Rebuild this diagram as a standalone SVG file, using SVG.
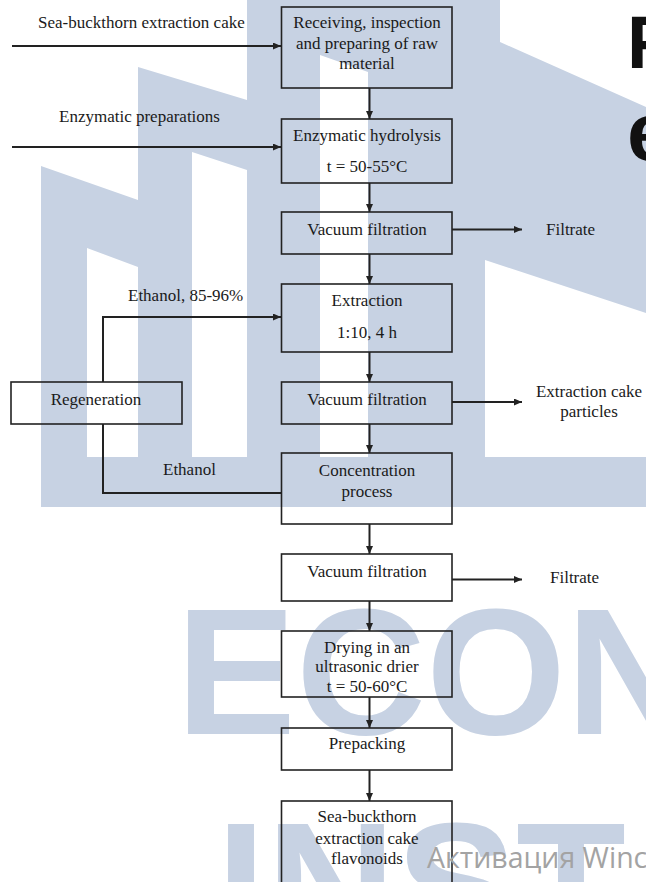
<svg xmlns="http://www.w3.org/2000/svg" width="646" height="882" viewBox="0 0 646 882">
<style>
.wm{fill:#c7d2e3}
.wmt{fill:#c7d2e3;font-family:"Liberation Sans",Arial,sans-serif;font-weight:bold;font-size:180px}
.box{fill:none;stroke:#222;stroke-width:1.6}
.t{font-family:"Liberation Serif","Times New Roman",serif;font-size:17px;fill:#1a1a1a}
.c{text-anchor:middle}
.ln{fill:none;stroke:#222;stroke-width:2}
.ttl{font-family:"Liberation Sans",Arial,sans-serif;font-weight:bold;fill:#111}
</style>
<defs>
<marker id="ah" markerWidth="8" markerHeight="7" refX="8" refY="3.5" orient="auto" markerUnits="userSpaceOnUse">
<path d="M0,0 L8,3.5 L0,7 Z" fill="#222"/>
</marker>
</defs>
<rect x="0" y="0" width="646" height="882" fill="#fff"/>
<g id="watermark">
<path class="wm" fill-rule="evenodd" d="M41,166 L138,200 L138,67 L247,100 L247,0 L500,0 L500,42 L646,107 L646,313 L485,260 L485,457 L646,457 L646,507 L41,507 Z M87,248 L138,267 L138,457 L87,457 Z M192,152 L247,170 L247,457 L192,457 Z M320,55 L368,72 L368,457 L320,457 Z"/>
<text class="wmt" x="176" y="734">ECON</text>
<text class="wmt" x="216" y="948">INST</text>
</g>
<g id="title">
<text class="ttl" x="627" y="68" font-size="74">F</text>
<text class="ttl" x="627" y="160" font-size="82">e</text>
</g>
<g id="connectors">
<line class="ln" x1="12" y1="46" x2="281" y2="46" marker-end="url(#ah)"/>
<line class="ln" x1="12" y1="147" x2="281" y2="147" marker-end="url(#ah)"/>
<line class="ln" x1="369.5" y1="88" x2="369.5" y2="119" marker-end="url(#ah)"/>
<line class="ln" x1="369.5" y1="183" x2="369.5" y2="212" marker-end="url(#ah)"/>
<line class="ln" x1="369.5" y1="254" x2="369.5" y2="284" marker-end="url(#ah)"/>
<line class="ln" x1="369.5" y1="352" x2="369.5" y2="382" marker-end="url(#ah)"/>
<line class="ln" x1="369.5" y1="424" x2="369.5" y2="453" marker-end="url(#ah)"/>
<line class="ln" x1="369.5" y1="524" x2="369.5" y2="554" marker-end="url(#ah)"/>
<line class="ln" x1="369.5" y1="601" x2="369.5" y2="631" marker-end="url(#ah)"/>
<line class="ln" x1="369.5" y1="697" x2="369.5" y2="728" marker-end="url(#ah)"/>
<line class="ln" x1="369.5" y1="770" x2="369.5" y2="801" marker-end="url(#ah)"/>
<line class="ln" x1="452" y1="229.5" x2="522" y2="229.5" marker-end="url(#ah)"/>
<line class="ln" x1="452" y1="402" x2="522" y2="402" marker-end="url(#ah)"/>
<line class="ln" x1="452" y1="579.5" x2="522" y2="579.5" marker-end="url(#ah)"/>
<polyline class="ln" points="103,382 103,317 281,317" marker-end="url(#ah)"/>
<polyline class="ln" points="103,424 103,493 281,493"/>
</g>
<text class="t" x="38" y="28">Sea-buckthorn extraction cake</text>
<text class="t" x="59" y="122">Enzymatic preparations</text>
<text class="t" x="128" y="301">Ethanol, 85-96%</text>
<text class="t" x="163" y="475">Ethanol</text>
<text class="t" x="546" y="235">Filtrate</text>
<text class="t c" x="589" y="396.5">Extraction cake</text>
<text class="t c" x="589" y="417">particles</text>
<text class="t" x="550" y="583">Filtrate</text>
<g id="n1"><rect class="box" x="281.5" y="7" width="170.5" height="81"/>
<text class="t c" x="367" y="28">Receiving, inspection</text>
<text class="t c" x="367" y="49">and preparing of raw</text>
<text class="t c" x="367" y="69">material</text></g>
<g id="n2"><rect class="box" x="281.5" y="119" width="170.5" height="64"/>
<text class="t c" x="367" y="140.5">Enzymatic hydrolysis</text>
<text class="t c" x="367" y="171.5">t = 50-55°C</text></g>
<g id="n3"><rect class="box" x="281.5" y="212" width="170.5" height="42"/>
<text class="t c" x="367" y="235">Vacuum filtration</text></g>
<g id="n4"><rect class="box" x="281.5" y="284" width="170.5" height="68"/>
<text class="t c" x="367" y="306">Extraction</text>
<text class="t c" x="367" y="337.5">1:10, 4 h</text></g>
<g id="n5"><rect class="box" x="11" y="382" width="171" height="42"/>
<text class="t c" x="96" y="404.5">Regeneration</text></g>
<g id="n6"><rect class="box" x="281.5" y="382" width="170.5" height="42"/>
<text class="t c" x="367" y="405">Vacuum filtration</text></g>
<g id="n7"><rect class="box" x="281.5" y="453" width="170.5" height="71"/>
<text class="t c" x="367" y="476">Concentration</text>
<text class="t c" x="367" y="496.5">process</text></g>
<g id="n8"><rect class="box" x="281.5" y="554" width="170.5" height="47"/>
<text class="t c" x="367" y="577">Vacuum filtration</text></g>
<g id="n9"><rect class="box" x="281.5" y="631" width="170.5" height="66"/>
<text class="t c" x="367" y="652.5">Drying in an</text>
<text class="t c" x="367" y="672">ultrasonic drier</text>
<text class="t c" x="367" y="691.5">t = 50-60°C</text></g>
<g id="n10"><rect class="box" x="281.5" y="728" width="170.5" height="42"/>
<text class="t c" x="367" y="749">Prepacking</text></g>
<g id="n11"><rect class="box" x="281.5" y="801" width="170.5" height="110"/>
<text class="t c" x="367" y="822">Sea-buckthorn</text>
<text class="t c" x="367" y="843.5">extraction cake</text>
<text class="t c" x="367" y="864">flavonoids</text></g>
<text x="427" y="868" font-family="'Open Sans','Noto Sans',sans-serif" font-size="28.5" fill="#a3a3a3">Активация Winc</text>
</svg>
